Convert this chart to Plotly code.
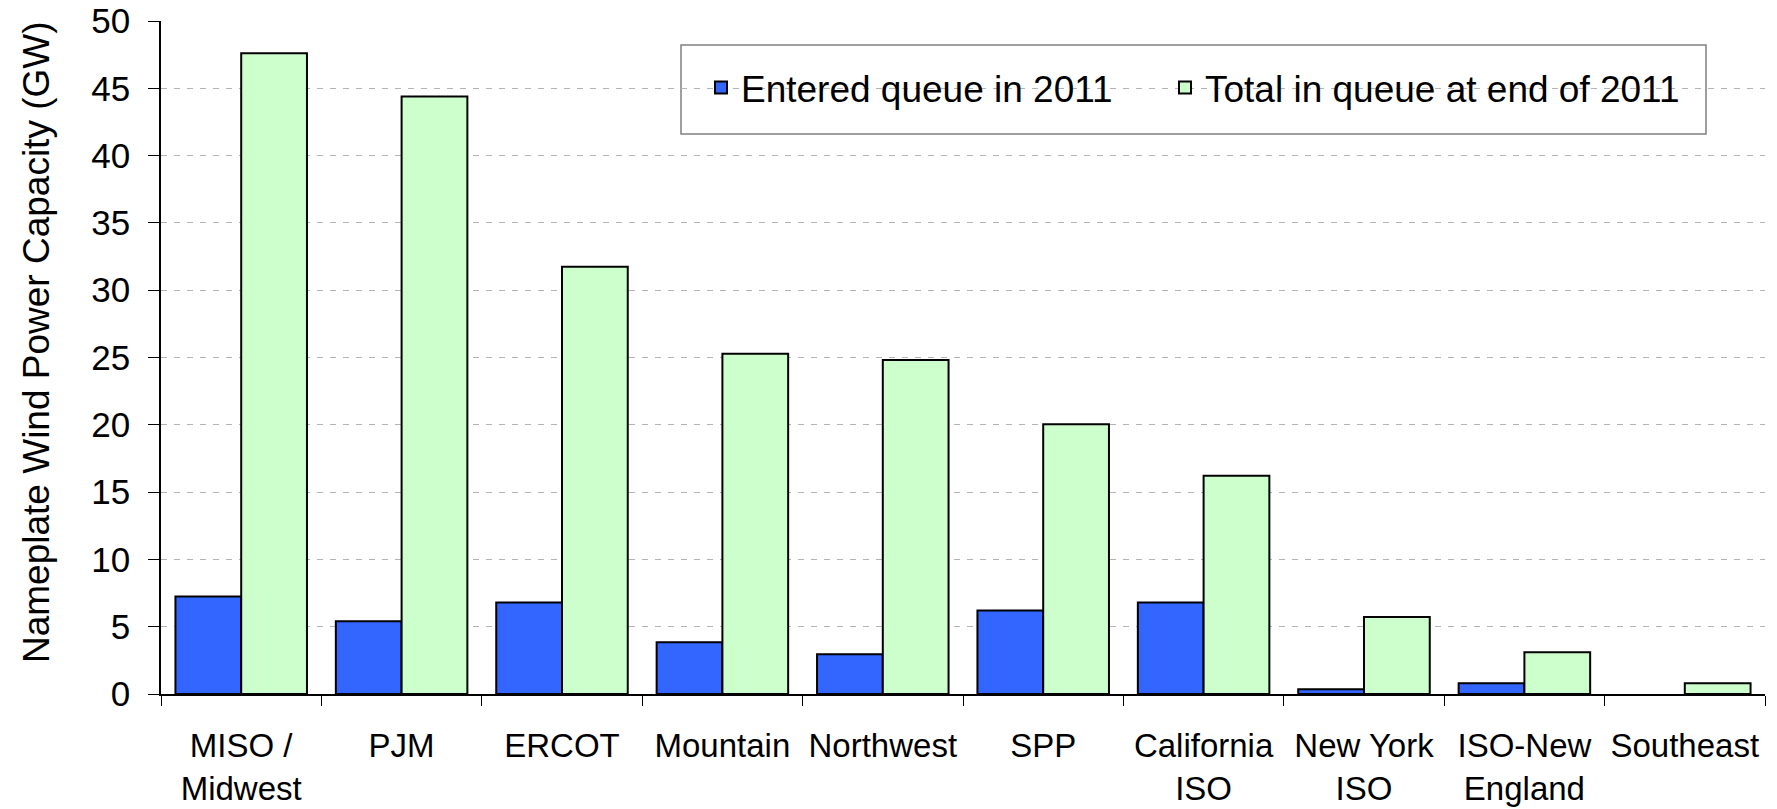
import plotly.graph_objects as go

categories = ["MISO /<br>Midwest", "PJM", "ERCOT", "Mountain", "Northwest", "SPP",
              "California<br>ISO", "New York<br>ISO", "ISO-New<br>England", "Southeast"]
entered_2011 = [7.25, 5.4, 6.8, 3.85, 2.95, 6.2, 6.8, 0.35, 0.8, 0.0]
total_end_2011 = [47.6, 44.4, 31.75, 25.27, 24.82, 20.05, 16.22, 5.72, 3.1, 0.8]
series_names = ["Entered queue in 2011", "Total in queue at end of 2011"]
y_ticks = [0, 5, 10, 15, 20, 25, 30, 35, 40, 45, 50]
y_title = "Nameplate Wind Power Capacity (GW)"

W, H = 1777, 809
L, R, T, B = 161, 12, 21, 115

def outline(vals):
    return [2 if v > 0 else 0 for v in vals]

fig = go.Figure()
fig.add_trace(go.Bar(x=categories, y=entered_2011, name=series_names[0], legend="legend",
                     marker=dict(color="#3366FF", line=dict(color="black", width=outline(entered_2011)))))
fig.add_trace(go.Bar(x=categories, y=total_end_2011, name=series_names[1], legend="legend2",
                     marker=dict(color="#CCFFCC", line=dict(color="black", width=outline(total_end_2011)))))

font = "Liberation Sans, Arial, sans-serif"

def px_x(px):
    return (px - L) / (W - L - R)

def px_y(py):
    return (H - B - py) / (H - T - B)

# legend frame
fig.add_shape(type="rect", xref="paper", yref="paper",
              x0=px_x(681), x1=px_x(1706), y0=px_y(134), y1=px_y(45),
              line=dict(color="#808080", width=1.5), fillcolor="white", layer="below")

# y-axis title (placed as annotation to match the reference's off-centre position)
fig.add_annotation(text=y_title, xref="paper", yref="paper", x=px_x(36), y=px_y(342),
                   xanchor="center", yanchor="middle", textangle=-90, showarrow=False,
                   font=dict(size=37, family=font, color="black"))

leg_common = dict(orientation="h", xanchor="left", yanchor="middle",
                  font=dict(size=37, family=font, color="black"), bgcolor="rgba(0,0,0,0)",
                  itemclick=False, itemdoubleclick=False)

fig.update_layout(
    width=W, height=H,
    margin=dict(l=L, r=R, t=T, b=B, autoexpand=False),
    paper_bgcolor="white", plot_bgcolor="white",
    barmode="group", bargap=0.18, bargroupgap=0,
    font=dict(family=font, color="black"),
    showlegend=True,
    legend=dict(x=px_x(701), y=px_y(88), **leg_common),
    legend2=dict(x=px_x(1165), y=px_y(88), **leg_common),
    xaxis=dict(showline=True, linecolor="black", linewidth=1.5, automargin=False,
               ticks="outside", ticklen=10, tickcolor="black", tickwidth=1,
               tickson="boundaries", tickfont=dict(size=33, family=font),
               ticklabelstandoff=22, showgrid=False),
    yaxis=dict(range=[0, 50], tickvals=y_ticks, showline=True, linecolor="black", linewidth=1.5,
               automargin=False,
               ticks="outside", ticklen=11, tickcolor="black", tickwidth=1,
               tickfont=dict(size=35, family=font), ticklabelstandoff=11,
               showgrid=True, gridcolor="#b4b4b4", gridwidth=1.2, griddash="6px,7px",
               zeroline=False),
)

fig.write_html("out.html", config={"displayModeBar": False},
               post_script="document.body.style.margin='0';document.body.style.overflow='hidden';")
